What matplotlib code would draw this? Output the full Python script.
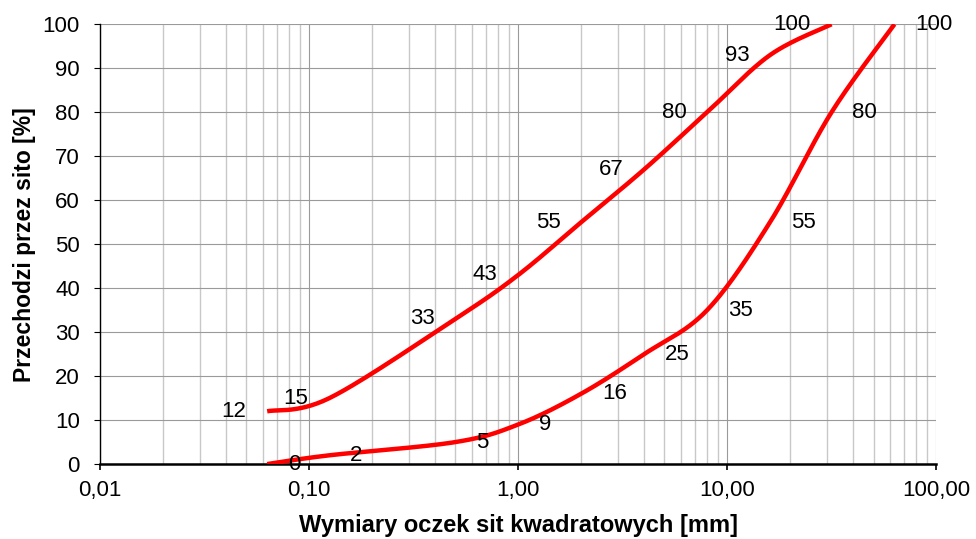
import numpy as np
import matplotlib.pyplot as plt
from matplotlib.ticker import FixedLocator, LogLocator, NullFormatter

# sieve sizes [mm] and passing percentages
upper_sizes = [0.063, 0.125, 0.5, 1, 2, 4, 8, 16, 31.5]
upper_pass = [12, 15, 33, 43, 55, 67, 80, 93, 100]

lower_sizes = [0.063, 0.125, 0.5, 1, 2, 4, 8, 16, 31.5, 63]
lower_pass = [0, 2, 5, 9, 16, 25, 35, 55, 80, 100]

x_ticks = [0.01, 0.1, 1, 10, 100]
x_tick_labels = ["0,01", "0,10", "1,00", "10,00", "100,00"]
y_ticks = list(range(0, 101, 10))

plt.rcParams["font.family"] = ["Liberation Sans", "DejaVu Sans"]


def smooth(xs, ys, n=30):
    # Bezier smoothing through the points (like a spreadsheet "smoothed line"),
    # done in roughly pixel-proportional space: log10(x) vs y
    u = np.log10(xs) * 209.0
    v = np.asarray(ys, dtype=float) * 4.4
    P = np.column_stack([u, v])
    P = np.vstack([P[0], P, P[-1]])
    out = []
    for i in range(1, len(P) - 2):
        p0, p1, p2, p3 = P[i - 1], P[i], P[i + 1], P[i + 2]
        c1 = p1 + (p2 - p0) / 6.0
        c2 = p2 - (p3 - p1) / 6.0
        t = np.linspace(0, 1, n)[:, None]
        seg = ((1 - t) ** 3) * p1 + 3 * ((1 - t) ** 2) * t * c1 + 3 * (1 - t) * t**2 * c2 + t**3 * p2
        out.append(seg if i == 1 else seg[1:])
    out = np.vstack(out)
    return 10 ** (out[:, 0] / 209.0), out[:, 1] / 4.4


fig = plt.figure(figsize=(9.76, 5.39), dpi=100)
ax = fig.add_axes([0.1025, 0.139, 0.857, 0.816])

ax.set_xscale("log")
ax.set_xlim(0.01, 100)
ax.set_ylim(0, 100)

ax.xaxis.set_major_locator(FixedLocator(x_ticks))
ax.set_xticklabels(x_tick_labels)
ax.xaxis.set_minor_locator(LogLocator(base=10, subs=np.arange(2, 10)))
ax.xaxis.set_minor_formatter(NullFormatter())
ax.set_yticks(y_ticks)

ax.grid(True, which="major", color="#9a9a9a", linewidth=0.8)
ax.grid(True, which="minor", axis="x", color="#c8c8c8", linewidth=1.0)
ax.set_axisbelow(True)

ax.tick_params(axis="x", which="minor", length=0)
ax.tick_params(axis="x", which="major", length=4.5, width=1.2, pad=7, labelsize=16)
ax.tick_params(axis="y", length=4.5, width=0.8, pad=10, labelsize=16)

for s in ["top", "right"]:
    ax.spines[s].set_visible(False)
ax.spines["left"].set_linewidth(1.0)
ax.spines["bottom"].set_linewidth(1.8)

red = "#ff0000"
ux, uy = smooth(upper_sizes, upper_pass)
lx, ly = smooth(lower_sizes, lower_pass)
ax.plot(ux, uy, color=red, linewidth=3.2, solid_capstyle="butt", zorder=3)
ax.plot(lx, ly, color=red, linewidth=3.2, solid_capstyle="butt", zorder=3)

for xv, yv in zip(upper_sizes, upper_pass):
    ax.annotate(str(yv), (xv, yv), xytext=(-15, 0), textcoords="offset points",
                ha="right", va="center", fontsize=16, clip_on=False, zorder=4)
for xv, yv in zip(lower_sizes, lower_pass):
    ax.annotate(str(yv), (xv, yv), xytext=(15, 0), textcoords="offset points",
                ha="left", va="center", fontsize=16, clip_on=False, zorder=4)

ax.set_xlabel("Wymiary oczek sit kwadratowych [mm]", fontsize=17, fontweight="bold", labelpad=9)
ax.set_ylabel("Przechodzi przez sito [%]", fontsize=16.5, fontweight="bold", labelpad=5)

fig.savefig("out.png", dpi=100)
